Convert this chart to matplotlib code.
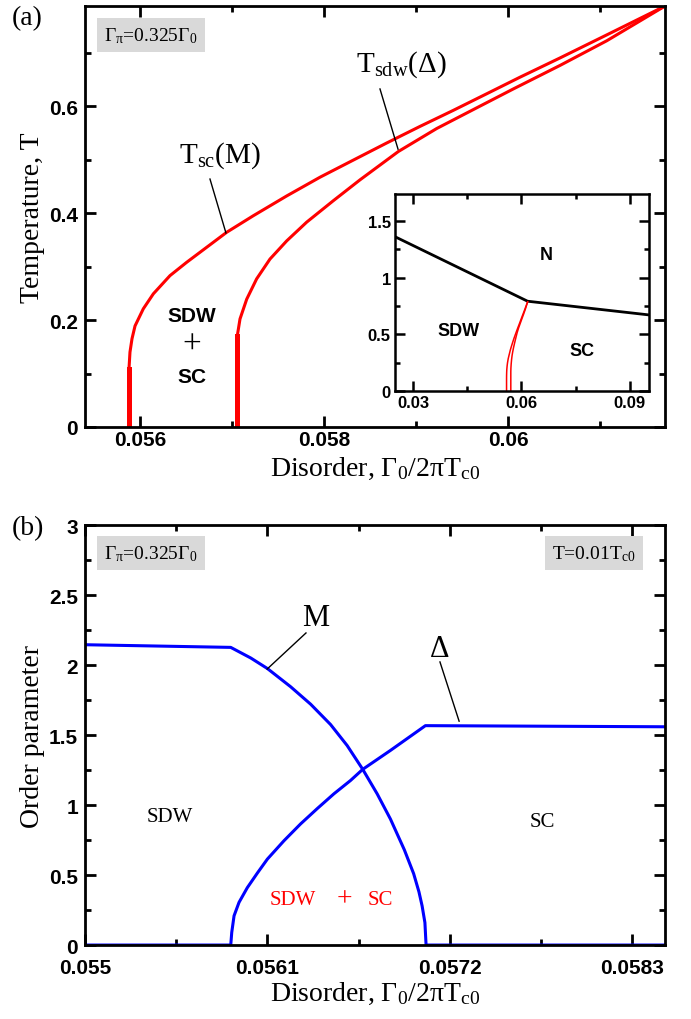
import matplotlib
matplotlib.use('Agg')
import matplotlib.pyplot as plt
from matplotlib.ticker import FixedLocator, FuncFormatter

plt.rcParams['mathtext.fontset'] = 'custom'
plt.rcParams['mathtext.rm'] = 'Liberation Serif'
plt.rcParams['mathtext.it'] = 'Liberation Serif'
plt.rcParams['mathtext.default'] = 'rm'

# panel (a): transition temperatures vs disorder
tsc_x = [0.055880, 0.055880, 0.055891, 0.055913, 0.055946, 0.056036, 0.056145,
         0.056326, 0.056508, 0.056725, 0.056942, 0.057232, 0.057595, 0.057957,
         0.058319, 0.058682, 0.059044, 0.059406, 0.059769, 0.060131, 0.060566,
         0.061073, 0.061707]
tsc_t = [0.0, 0.108, 0.140, 0.165, 0.189, 0.221, 0.249,
         0.283, 0.308, 0.336, 0.364, 0.395, 0.432, 0.467,
         0.499, 0.531, 0.562, 0.592, 0.623, 0.654, 0.690,
         0.733, 0.787]
tsdw_x = [0.057058, 0.057058, 0.057087, 0.057160, 0.057268, 0.057413, 0.057595,
          0.057812, 0.058101, 0.058391, 0.058808, 0.059225, 0.059641, 0.060058,
          0.060566, 0.061073, 0.061707]
tsdw_t = [0.0, 0.171, 0.202, 0.239, 0.277, 0.314, 0.348,
          0.383, 0.423, 0.462, 0.515, 0.558, 0.595, 0.632,
          0.676, 0.722, 0.787]

# inset: full phase diagram
tn_x = [0.025, 0.0617, 0.0953]
tn_t = [1.363, 0.793, 0.672]

# panel (b): order parameters at T = 0.01 Tc0
m_x = [0.055, 0.055879, 0.056000, 0.056100, 0.056240, 0.056361, 0.056481,
       0.056581, 0.056675, 0.056762, 0.056842, 0.056926, 0.056982, 0.057014,
       0.057033, 0.057050, 0.057057, 0.058498]
m_v = [2.145, 2.126, 2.050, 1.975, 1.845, 1.720, 1.575,
       1.425, 1.255, 1.080, 0.900, 0.680, 0.510, 0.380,
       0.280, 0.160, 0.0, 0.0]
d_x = [0.055, 0.055879, 0.055885, 0.055899, 0.055929, 0.055979, 0.056040,
       0.056100, 0.056200, 0.056300, 0.056401, 0.056501, 0.056601, 0.056675,
       0.056842, 0.057053, 0.058498]
d_v = [0.0, 0.0, 0.09, 0.209, 0.305, 0.41, 0.515,
       0.614, 0.745, 0.865, 0.975, 1.080, 1.175, 1.255,
       1.390, 1.567, 1.559]

SERIF = 'Liberation Serif'
SANS = 'Liberation Sans'
fmt = FuncFormatter(lambda v, p: '{:g}'.format(round(v, 6)))


def style_axes(ax, xmaj, xmin, ymaj, ymin, size=15, lw=2.0, ln=8, xpad=3, ypad=5):
    ax.xaxis.set_major_locator(FixedLocator(xmaj))
    ax.xaxis.set_minor_locator(FixedLocator(xmin))
    ax.yaxis.set_major_locator(FixedLocator(ymaj))
    ax.yaxis.set_minor_locator(FixedLocator(ymin))
    ax.xaxis.set_major_formatter(fmt)
    ax.yaxis.set_major_formatter(fmt)
    ax.tick_params(which='both', direction='in', top=True, right=True, width=lw)
    ax.tick_params(which='major', length=ln)
    ax.tick_params(which='minor', length=ln * 0.55)
    ax.tick_params(axis='x', which='major', pad=xpad)
    ax.tick_params(axis='y', which='major', pad=ypad)
    for s in ax.spines.values():
        s.set_linewidth(lw)
    for lab in ax.get_xticklabels() + ax.get_yticklabels():
        lab.set_fontfamily(SANS)
        lab.set_fontweight('bold')
        lab.set_fontsize(size)


fig = plt.figure(figsize=(6.91, 10.2), dpi=100)
box = dict(facecolor='#d9d9d9', edgecolor='none', pad=5)

# ---------------- (a) ----------------
ax1 = fig.add_axes([0.123, 0.5804, 0.8394, 0.4127])
for xs, ts, vtop in [(tsc_x, tsc_t, 0.108), (tsdw_x, tsdw_t, 0.171)]:
    ax1.plot(xs, ts, color='red', lw=2.2)
    vx = [x for x, t in zip(xs, ts) if t <= vtop]
    vt = [t for t in ts if t <= vtop]
    ax1.plot(vx, vt, color='red', lw=3.6)
ax1.set_xlim(0.055402, 0.061707)
ax1.set_ylim(0, 0.787)
style_axes(ax1, [0.056, 0.058, 0.060], [0.055, 0.057, 0.059, 0.061],
           [0, 0.2, 0.4, 0.6], [0.1, 0.3, 0.5, 0.7], xpad=2)
ax1.set_xlabel(r'Disorder, $\Gamma_0/2\pi T_{c0}$', family=SERIF, fontsize=20, labelpad=4)
ax1.set_ylabel('Temperature, T', family=SERIF, fontsize=20, labelpad=3)

ax1.text(0.114, 0.931, r'$\Gamma_\pi$=0.325$\Gamma_0$', transform=ax1.transAxes,
         ha='center', va='center', family=SERIF, fontsize=14, bbox=box)
ax1.text(0.233, 0.648, r'$T_{sc}$(M)', transform=ax1.transAxes, ha='center',
         va='center', family=SERIF, fontsize=21)
ax1.plot([0.2155, 0.243], [0.589, 0.461], transform=ax1.transAxes, color='k', lw=1)
ax1.text(0.545, 0.862, r'$T_{sdw}$($\Delta$)', transform=ax1.transAxes, ha='center',
         va='center', family=SERIF, fontsize=21)
ax1.plot([0.5086, 0.5397], [0.803, 0.660], transform=ax1.transAxes, color='k', lw=1)
for txt, y in [('SDW', 0.264), ('SC', 0.119)]:
    ax1.text(0.184, y, txt, transform=ax1.transAxes, ha='center', va='center',
             family=SANS, fontweight='bold', fontsize=15)
ax1.text(0.184, 0.197, '+', transform=ax1.transAxes, ha='center', va='center',
         family=SERIF, fontsize=24)

fig.text(0.04, 0.982, '(a)', family=SERIF, fontsize=20, ha='center', va='center')

# inset
axi = fig.add_axes([0.5716, 0.6157, 0.3676, 0.1931])
axi.plot(tn_x, tn_t, color='black', lw=2)
axi.plot(tsc_x, tsc_t, color='red', lw=1.1)
axi.plot(tsdw_x, tsdw_t, color='red', lw=1.1)
axi.set_xlim(0.025, 0.0953)
axi.set_ylim(0, 1.74)
style_axes(axi, [0.03, 0.06, 0.09], [0.045, 0.075],
           [0, 0.5, 1, 1.5], [0.25, 0.75, 1.25], size=12, lw=1.8, ln=7,
           xpad=3, ypad=3)
for txt, x, y in [('N', 0.594, 0.695), ('SDW', 0.252, 0.305), ('SC', 0.736, 0.208)]:
    axi.text(x, y, txt, transform=axi.transAxes, ha='center', va='center',
             family=SANS, fontweight='bold', fontsize=13)

# ---------------- (b) ----------------
ax2 = fig.add_axes([0.123, 0.0725, 0.8394, 0.4118])
ax2.plot(m_x, m_v, color='blue', lw=2.2)
ax2.plot(d_x, d_v, color='blue', lw=2.2)
ax2.set_xlim(0.055, 0.058498)
ax2.set_ylim(0, 3)
style_axes(ax2, [0.055, 0.0561, 0.0572, 0.0583], [0.05555, 0.05665, 0.05775],
           [0, 0.5, 1, 1.5, 2, 2.5, 3], [0.25, 0.75, 1.25, 1.75, 2.25, 2.75],
           xpad=9, ypad=5)
ax2.set_xlabel(r'Disorder, $\Gamma_0/2\pi T_{c0}$', family=SERIF, fontsize=20, labelpad=2)
ax2.set_ylabel('Order parameter', family=SERIF, fontsize=20, labelpad=3)

ax2.text(0.114, 0.933, r'$\Gamma_\pi$=0.325$\Gamma_0$', transform=ax2.transAxes,
         ha='center', va='center', family=SERIF, fontsize=14, bbox=box)
ax2.text(0.8776, 0.933, r'T=0.01$T_{c0}$', transform=ax2.transAxes,
         ha='center', va='center', family=SERIF, fontsize=14, bbox=box)
ax2.text(0.398, 0.781, 'M', transform=ax2.transAxes, ha='center', va='center',
         family=SERIF, fontsize=22)
ax2.plot([0.381, 0.314], [0.743, 0.657], transform=ax2.transAxes, color='k', lw=1)
ax2.text(0.610, 0.705, r'$\Delta$', transform=ax2.transAxes, ha='center', va='center',
         family=SERIF, fontsize=22)
ax2.plot([0.612, 0.645], [0.674, 0.533], transform=ax2.transAxes, color='k', lw=1)
ax2.text(0.1466, 0.307, 'SDW', transform=ax2.transAxes, ha='center', va='center',
         family=SERIF, fontsize=15)
ax2.text(0.788, 0.295, 'SC', transform=ax2.transAxes, ha='center', va='center',
         family=SERIF, fontsize=15)
for txt, x, fs in [('SDW', 0.3586, 15), ('+', 0.448, 20), ('SC', 0.5086, 15)]:
    ax2.text(x, 0.1095, txt, transform=ax2.transAxes, ha='center', va='center',
             family=SERIF, fontsize=fs, color='red')

fig.text(0.04, 0.482, '(b)', family=SERIF, fontsize=20, ha='center', va='center')

fig.savefig('out.png', dpi=100)
